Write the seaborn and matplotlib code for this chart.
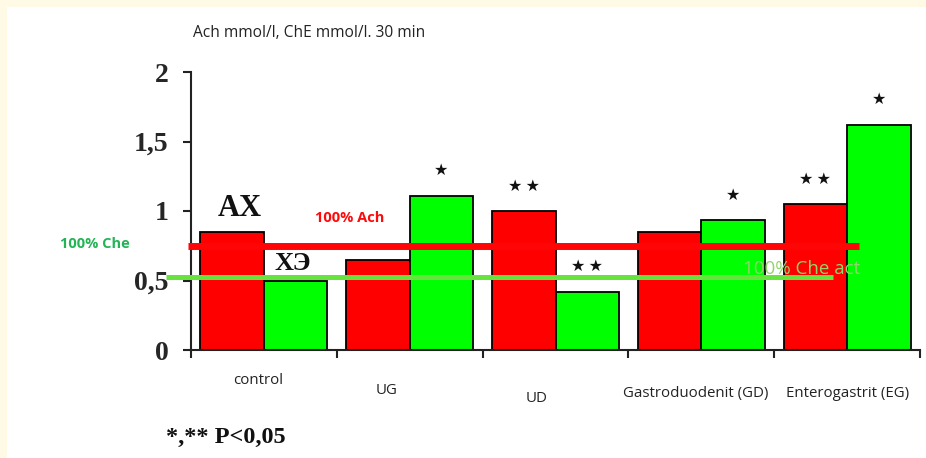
import numpy as np
import pandas as pd
import matplotlib
matplotlib.use("Agg")
import matplotlib.pyplot as plt
from matplotlib.patches import Rectangle
import seaborn as sns

# data
groups = ["control", "UG", "UD", "Gastroduodenit (GD)", "Enterogastrit (EG)"]
ach = [0.85, 0.65, 1.0, 0.85, 1.05]
che = [0.50, 1.11, 0.42, 0.935, 1.62]
stars_ach = ["", "", "**", "", "**"]
stars_che = ["", "*", "**", "*", "*"]
ach_100 = 0.75
che_100 = 0.525
yticks = [0, 0.5, 1, 1.5, 2]
ytick_labels = ["0", "0,5", "1", "1,5", "2"]

# label positions under the axis (x offset, y in data units) - they are not aligned in the original
label_pos = [(-0.04, -0.22), (0.84, -0.29), (1.87, -0.35), (2.96, -0.31), (4.0, -0.31)]

df = pd.DataFrame({
    "group": groups * 2,
    "kind": ["Ach"] * len(groups) + ["ChE"] * len(groups),
    "value": ach + che,
})

sns.set_style("white")
plt.rcParams["font.family"] = ["Open Sans", "DejaVu Sans"]

W, H = 926, 458
fig = plt.figure(figsize=(W / 100, H / 100), dpi=100)
fig.patch.set_facecolor("#fffae6")
fig.patches.append(Rectangle((7 / W, 0), 1, (H - 7) / H, transform=fig.transFigure,
                             facecolor="white", edgecolor="none", zorder=-10))

ax = fig.add_axes([191 / W, 108 / H, 729 / W, 278 / H])
ax.set_facecolor("none")

sns.barplot(data=df, x="group", y="value", hue="kind", order=groups,
            palette={"Ach": "#ff0000", "ChE": "#00ff00"}, saturation=1, width=0.87,
            edgecolor="black", linewidth=1.3, legend=False, ax=ax)

ax.set_xlim(-0.5, 4.5)
ax.set_ylim(0, 2)
ax.set_xlabel("")
ax.set_ylabel("")
for s in ["top", "right"]:
    ax.spines[s].set_visible(False)
for s in ["left", "bottom"]:
    ax.spines[s].set_color("#222222")
    ax.spines[s].set_linewidth(1.5)

ax.set_yticks(yticks)
ax.set_yticklabels(ytick_labels, fontfamily="Liberation Serif", fontweight="bold", fontsize=20)
ax.set_xticks(np.arange(-0.5, 5, 1))
ax.set_xticklabels([])
ax.tick_params(axis="both", direction="out", length=6, width=1.5, color="#222222", left=True, bottom=True)
ax.tick_params(axis="y", pad=10)

for g, (lx, ly) in zip(groups, label_pos):
    ax.text(lx, ly, g, ha="center", va="center", fontsize=10.8, color="#222222", clip_on=False)

# significance stars over the bars
off = 0.87 / 4
for i in range(len(groups)):
    for s, v, dx in [(stars_ach[i], ach[i], -off), (stars_che[i], che[i], off)]:
        if s:
            txt = "\u2009".join("★" * len(s))
            ax.text(i + dx, v + 0.18, txt, ha="center", va="center", fontsize=11.5,
                    family="DejaVu Sans", color="#111111")

# 100% reference lines
ax.plot([-0.52, 4.08], [ach_100, ach_100], color="#ff0505", lw=5, solid_capstyle="butt",
        clip_on=False, zorder=5)
ax.plot([-0.67, 3.90], [che_100, che_100], color="#66e33c", lw=3.6, solid_capstyle="butt",
        clip_on=False, zorder=5)

ax.text(-0.164, 1.02, "АХ", ha="center", va="center", fontsize=22, fontweight="bold",
        family="Liberation Serif", color="#111111")
ax.text(0.2, 0.62, "ХЭ", ha="center", va="center", fontsize=19, fontweight="bold",
        family="Liberation Serif", color="#111111", zorder=4)
ax.text(0.59, 0.95, "100% Ach", ha="center", va="center", fontsize=10.5, fontweight="bold",
        color="#ff0a0a")
ax.text(-1.16, 0.76, "100% Che", ha="center", va="center", fontsize=10.5, fontweight="bold",
        color="#22b455", clip_on=False)
ax.text(3.69, 0.58, "100% Che act", ha="center", va="center", fontsize=13.5,
        color="#92d46c", zorder=6)

fig.text(193 / W, 1 - 33 / H, "Ach mmol/l, ChE mmol/l. 30 min", ha="left", va="center",
         fontsize=11.2, color="#222222")
fig.text(166 / W, 1 - 437 / H, "*,** P<0,05", ha="left", va="center", fontsize=17.5,
         fontweight="bold", family="Liberation Serif", color="#111111")

fig.savefig("out.png", dpi=100, facecolor=fig.get_facecolor())
